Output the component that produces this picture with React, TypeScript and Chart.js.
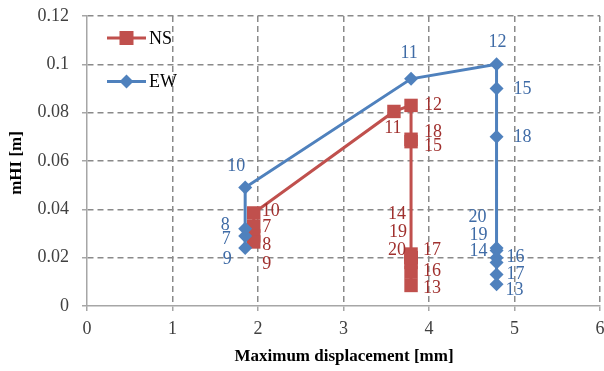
import React, { useEffect, useRef } from "react";
import { Chart, registerables } from "chart.js";

Chart.register(...registerables);

// ---- data ----
const pointIds = ["7", "8", "9", "10", "11", "12", "13", "14", "15", "16", "17", "18", "19", "20"];
const nsX = [1.95, 1.95, 1.95, 1.95, 3.59, 3.79, 3.79, 3.79, 3.79, 3.79, 3.79, 3.79, 3.79, 3.79];
const nsY = [0.033, 0.029, 0.0265, 0.0385, 0.0805, 0.083, 0.0085, 0.0215, 0.068, 0.014, 0.02, 0.069, 0.018, 0.02];
const ewX = [1.85, 1.85, 1.85, 1.85, 3.79, 4.79, 4.79, 4.79, 4.79, 4.79, 4.79, 4.79, 4.79, 4.79];
const ewY = [0.029, 0.032, 0.024, 0.049, 0.094, 0.1, 0.009, 0.024, 0.09, 0.02, 0.013, 0.07, 0.018, 0.023];
const xTickValues = [0, 1, 2, 3, 4, 5, 6];
const xTickLabels = ["0", "1", "2", "3", "4", "5", "6"];
const yTickValues = [0, 0.02, 0.04, 0.06, 0.08, 0.1, 0.12];
const yTickLabels = ["0", "0.02", "0.04", "0.06", "0.08", "0.1", "0.12"];
const seriesNames = ["NS", "EW"];
const xTitle = "Maximum displacement [mm]";
const yTitle = "mHI [m]";

// ---- label placement (pixel offsets from each point) ----
const nsLabelOffsets: [number, number][] = [
  [13, 1], [13, 9], [13, 22], [17, -2], [-1, 17], [22, 0], [21, 3],
  [-14, -40], [22, 5], [21, -1], [21, -7], [22, -7], [-13, -30], [-14, -7],
];
const ewLabelOffsets: [number, number][] = [
  [-19, 3], [-20, -3], [-18, 11], [-9, -21], [-2, -26], [1, -22], [18, 6],
  [-18, 3], [26, 1], [19, 0], [19, 0], [26, 0], [-18, -27], [-19, -33],
];

const RED = "#C0504D";
const BLUE = "#4F81BD";
const RED_TEXT = "#A0302E";
const BLUE_TEXT = "#3F6BA6";
const FONT = '"Liberation Serif", "DejaVu Serif", serif';

const labelPlugin = {
  id: "pointLabels",
  afterDatasetsDraw(chart: any) {
    const ctx = chart.ctx;
    ctx.save();
    ctx.font = `18px ${FONT}`;
    ctx.textAlign = "center";
    ctx.textBaseline = "middle";
    chart.data.datasets.forEach((ds: any, di: number) => {
      const meta = chart.getDatasetMeta(di);
      const offs = ds._labelOffsets as [number, number][];
      ctx.fillStyle = ds._labelColor;
      meta.data.forEach((pt: any, i: number) => {
        const [dx, dy] = offs[i];
        ctx.fillText(pointIds[i], pt.x + dx, pt.y + dy);
      });
    });
    ctx.restore();
  },
  afterDraw(chart: any) {
    const ctx = chart.ctx;
    ctx.save();
    // legend
    const items = [
      { name: seriesNames[0], color: RED, y: 38, style: "rect" },
      { name: seriesNames[1], color: BLUE, y: 81.5, style: "diamond" },
    ];
    items.forEach((it) => {
      ctx.strokeStyle = it.color;
      ctx.lineWidth = 3;
      ctx.beginPath();
      ctx.moveTo(107, it.y);
      ctx.lineTo(146, it.y);
      ctx.stroke();
      ctx.fillStyle = it.color;
      if (it.style === "rect") {
        ctx.fillRect(119.5, it.y - 7, 14, 14);
      } else {
        ctx.beginPath();
        ctx.moveTo(126.5, it.y - 7);
        ctx.lineTo(133.5, it.y);
        ctx.lineTo(126.5, it.y + 7);
        ctx.lineTo(119.5, it.y);
        ctx.closePath();
        ctx.fill();
      }
      ctx.fillStyle = "#000";
      ctx.font = `18px ${FONT}`;
      ctx.textAlign = "left";
      ctx.textBaseline = "middle";
      ctx.fillText(it.name, 149, it.y + 1);
    });
    // axis titles
    ctx.fillStyle = "#000";
    ctx.font = `bold 17px ${FONT}`;
    ctx.textAlign = "center";
    ctx.textBaseline = "middle";
    ctx.fillText(xTitle, 344, 357);
    ctx.translate(17, 163);
    ctx.rotate(-Math.PI / 2);
    ctx.fillText(yTitle, 0, 0);
    ctx.restore();
  },
};

const zeroPad = (s: any) => {
  s.paddingTop = 0;
  s.paddingBottom = 0;
  s.paddingLeft = 0;
  s.paddingRight = 0;
};

export default function App() {
  const ref = useRef<HTMLCanvasElement | null>(null);
  useEffect(() => {
    document.body.style.margin = "0";
    const canvas = ref.current!;
    const gridColor = (c: any) => (c.tick && c.tick.value === 0 ? "rgba(0,0,0,0)" : "#8A8A8A");
    const chart = new Chart(canvas, {
      type: "scatter",
      data: {
        datasets: [
          {
            label: seriesNames[1],
            data: ewX.map((x, i) => ({ x, y: ewY[i] })),
            showLine: true,
            borderColor: BLUE,
            backgroundColor: BLUE,
            borderWidth: 3,
            pointStyle: "rectRot",
            pointRadius: 7,
            pointBorderWidth: 0,
            _labelOffsets: ewLabelOffsets,
            _labelColor: BLUE_TEXT,
          } as any,
          {
            label: seriesNames[0],
            data: nsX.map((x, i) => ({ x, y: nsY[i] })),
            showLine: true,
            borderColor: RED,
            backgroundColor: RED,
            borderWidth: 3,
            pointStyle: "rect",
            pointRadius: 9.5,
            pointBorderWidth: 0,
            _labelOffsets: nsLabelOffsets,
            _labelColor: RED_TEXT,
          } as any,
        ],
      },
      options: {
        animation: false,
        responsive: false,
        maintainAspectRatio: false,
        layout: { autoPadding: false, padding: { left: 0, right: 4, top: 16, bottom: 0 } },
        plugins: { legend: { display: false }, tooltip: { enabled: false } },
        scales: {
          x: {
            type: "linear",
            min: 0,
            max: 6,
            afterBuildTicks: (s: any) => {
              s.ticks = xTickValues.map((v) => ({ value: v }));
            },
            afterFit: (s: any) => {
              s.height = 65;
              zeroPad(s);
            },
            ticks: {
              padding: 7,
              color: "#404040",
              font: { family: FONT, size: 18 },
              maxRotation: 0,
              callback: (_v: any, i: number) => xTickLabels[i],
            },
            grid: {
              color: gridColor,
              lineWidth: 1.5,
              drawTicks: true,
              tickLength: 5,
              tickColor: "#A6A6A6",
              tickWidth: 1.5,
            },
            border: { display: true, color: "#A6A6A6", width: 1.5, dash: [6, 4] },
          },
          y: {
            type: "linear",
            min: 0,
            max: 0.12,
            afterBuildTicks: (s: any) => {
              s.ticks = yTickValues.map((v) => ({ value: v }));
            },
            afterFit: (s: any) => {
              s.width = 87;
              zeroPad(s);
            },
            ticks: {
              padding: 13,
              color: "#404040",
              font: { family: FONT, size: 18 },
              callback: (_v: any, i: number) => yTickLabels[i],
            },
            grid: {
              color: gridColor,
              lineWidth: 1.5,
              drawTicks: true,
              tickLength: 5,
              tickColor: "#A6A6A6",
              tickWidth: 1.5,
            },
            border: { display: true, color: "#A6A6A6", width: 1.5, dash: [6, 4] },
          },
        },
      } as any,
      plugins: [labelPlugin],
    });
    return () => chart.destroy();
  }, []);
  return (
    <div style={{ width: 604, height: 371 }}>
      <canvas ref={ref} width={604} height={371} style={{ display: "block" }} />
    </div>
  );
}
